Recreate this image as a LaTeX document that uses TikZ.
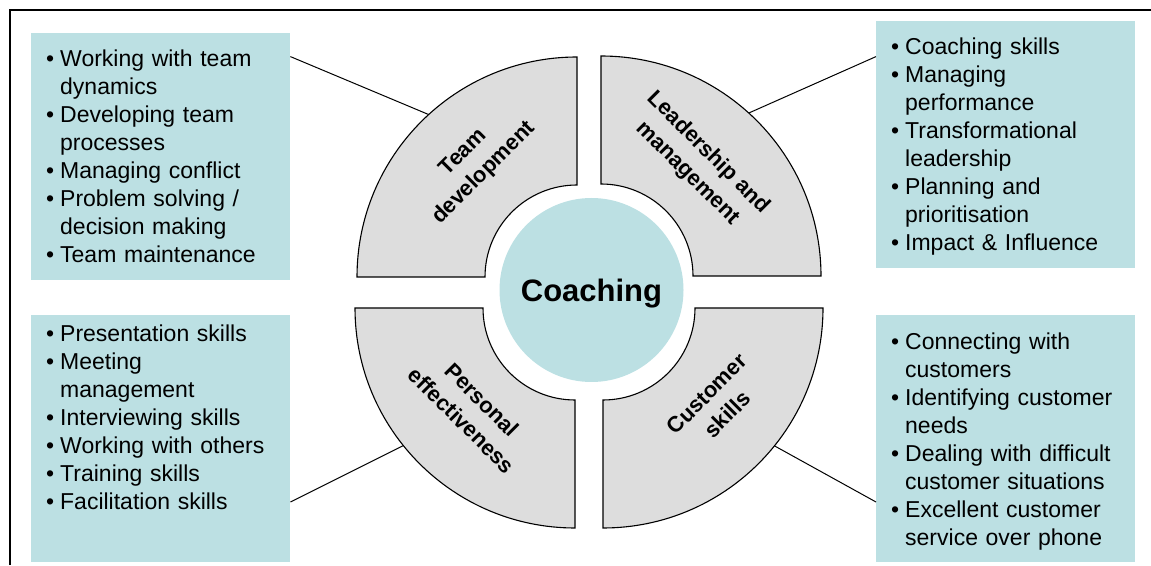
\documentclass[tikz,border=0pt]{standalone}
\usepackage{fontspec}
\setmainfont{Liberation Sans}
\usepackage{tikz}
\usetikzlibrary{positioning}
\definecolor{boxteal}{RGB}{188,224,227}
\definecolor{secgray}{RGB}{221,221,221}
\newcommand{\itm}{\makebox[14pt][l]{\textbullet}}
\newcommand{\cnt}{\hspace*{14pt}}
\tikzset{
  skillbox/.style={ fill=boxteal, minimum width=259pt, minimum height=247pt, anchor=south west, inner sep=0pt }
}
\tikzset{
  skilltext/.style={ inner sep=0pt, align=left, text width=240pt, font=\fontsize{23}{28}\selectfont }
}
\tikzset{
  sector/.style={ draw=black, fill=secgray, line width=1.1pt }
}
\tikzset{
  seclabel/.style={ align=center, inner sep=0pt, font=\fontsize{22}{29}\selectfont\bfseries }
}
\tikzset{
  conn/.style={ draw=black, line width=1pt }
}

\begin{document}
\begin{tikzpicture}[x=1pt, y=1pt]
  \useasboundingbox (0,0) rectangle (1151,565);
  \draw[line width=2pt] (10,0) -- (10,555) -- (1151,555);

  \node[skillbox] (tdbox) at (31,285) {};
  \node[skillbox] (lmbox) at (876,297) {};
  \node[skillbox] (pebox) at (31,3) {};
  \node[skillbox] (csbox) at (876,3) {};

  \node[skilltext, below right=13.9pt and 15pt of tdbox.north west] (tdtext) {\strut\itm Working with team\\
    \cnt dynamics\\
    \itm Developing team\\
    \cnt processes\\
    \itm Managing conflict\\
    \itm Problem solving /\\
    \cnt decision making\\
    \itm Team maintenance};
  \node[skilltext, below right=13.9pt and 15pt of lmbox.north west] (lmtext) {\strut\itm Coaching skills\\
    \itm Managing\\
    \cnt performance\\
    \itm Transformational\\
    \cnt leadership\\
    \itm Planning and\\
    \cnt prioritisation\\
    \itm Impact \& Influence};
  \node[skilltext, below right=7.4pt and 15pt of pebox.north west] (petext) {\strut\itm Presentation skills\\
    \itm Meeting\\
    \cnt management\\
    \itm Interviewing skills\\
    \itm Working with others\\
    \itm Training skills\\
    \itm Facilitation skills};
  \node[skilltext, below right=14.7pt and 15pt of csbox.north west] (cstext) {\strut\itm Connecting with\\
    \cnt customers\\
    \itm Identifying customer\\
    \cnt needs\\
    \itm Dealing with difficult\\
    \cnt customer situations\\
    \itm Excellent customer\\
    \cnt service over phone};

  % quarter rings round the centre
  \foreach \nm/\cx/\cy/\a in {td/577/288/90, lm/601/289/0, pe/575/257/180, cs/603/257/270}{
    \coordinate (\nm-ctr) at (\cx,\cy);
    \draw[sector] ([shift={(\a:92)}]\nm-ctr) -- ([shift={(\a:220)}]\nm-ctr)
      arc[start angle=\a, end angle=\a+90, radius=220] -- ([shift={(\a+90:92)}]\nm-ctr)
      arc[start angle=\a+90, end angle=\a, radius=92] -- cycle;
  }

  \node[circle, fill=boxteal, minimum size=184pt, inner sep=0pt] (coach) at (591.5,275) {};
  \node[anchor=base, inner sep=0pt, font=\fontsize{31}{37}\selectfont\bfseries] (coachlbl) at ([yshift=-12pt]coach.center) {Coaching};

  \node[seclabel, rotate=45] (tdlbl) at (474,402) {Team\\development};
  \node[seclabel, rotate=-45] (lmlbl) at (698,402) {Leadership and\\management};
  \node[seclabel, rotate=-45] (pelbl) at (472,155) {Personal\\effectiveness};
  \node[seclabel, rotate=45] (cslbl) at (717,161) {Customer\\skills};

  \coordinate (tdarc) at ([shift={(132.4:220)}]td-ctr);
  \coordinate (lmarc) at ([shift={(47.8:220)}]lm-ctr);
  \coordinate (pearc) at ([shift={(218.7:220)}]pe-ctr);
  \coordinate (csarc) at ([shift={(321.2:220)}]cs-ctr);

  \draw[conn] ([yshift=-24pt]tdbox.north east) -- (tdarc);
  \draw[conn] ([yshift=-36pt]lmbox.north west) -- (lmarc);
  \draw[conn] ([yshift=60pt]pebox.south east) -- (pearc);
  \draw[conn] ([yshift=60pt]csbox.south west) -- (csarc);
\end{tikzpicture}
\end{document}
